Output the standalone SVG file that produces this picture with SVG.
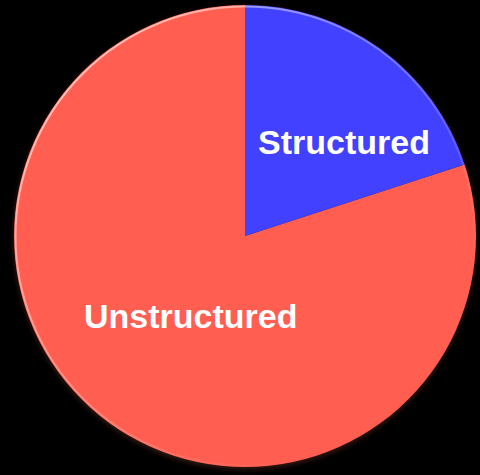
<svg xmlns="http://www.w3.org/2000/svg" width="480" height="475" viewBox="0 0 480 475">
<style>
.lbl{font-family:"Liberation Sans",Arial,sans-serif;font-weight:bold;font-size:34px;fill:#ffffff}
</style>
<defs>
<linearGradient id="rim" x1="0" y1="0" x2="1" y2="1">
<stop offset="0" stop-color="#ffffff" stop-opacity="0.7"/>
<stop offset="0.5" stop-color="#ffffff" stop-opacity="0.25"/>
<stop offset="0.8" stop-color="#ffffff" stop-opacity="0"/>
</linearGradient>
<filter id="blur" x="-10%" y="-10%" width="120%" height="120%">
<feGaussianBlur stdDeviation="3"/>
</filter>
</defs>
<rect width="480" height="475" fill="#000000"/>
<g id="shadow">
<circle cx="245" cy="238" r="231" fill="#3a1a16" filter="url(#blur)"/>
</g>
<g id="unstructured">
<path d="M245,236 L245,5 A231,231 0 1 0 464.7,164.6 Z" fill="#FF5E50"/>
<text class="lbl" x="84" y="328">Unstructured</text>
</g>
<g id="structured">
<path d="M245,236 L245,5 A231,231 0 0 1 464.7,164.6 Z" fill="#4141FF"/>
<text class="lbl" x="258" y="154">Structured</text>
</g>
<circle cx="245" cy="236" r="229.5" fill="none" stroke="url(#rim)" stroke-width="2"/>
</svg>
